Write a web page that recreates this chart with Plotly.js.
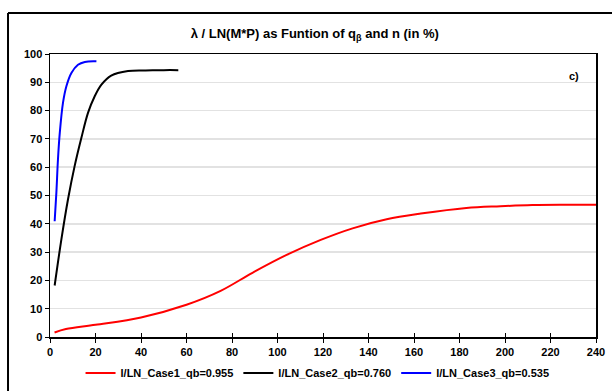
<!DOCTYPE html>
<html>
<head>
<meta charset="utf-8">
<script src="https://cdn.plot.ly/plotly-3.0.1.min.js"></script>
<style>html,body{margin:0;padding:0;background:#fff;}#chart{width:612px;height:391px;}</style>
</head>
<body>
<div id="chart"></div>
<script>
// Series data
const case1X = [2, 7, 20, 40, 60, 75, 89, 104, 119, 133, 148, 163, 183, 198, 212, 227, 240];
const case1Y = [1.6, 2.8, 4.3, 6.9, 11.4, 16.3, 22.7, 29.0, 34.3, 38.4, 41.6, 43.6, 45.6, 46.2, 46.6, 46.7, 46.7];
const case2X = [2.05, 5.0, 7.9, 10.8, 13.8, 16.7, 19.6, 22.6, 26.9, 34.3, 42, 50, 56.4];
const case2Y = [18.2, 34.5, 48.6, 60.3, 70.4, 79.2, 85.0, 89.2, 92.4, 94.0, 94.2, 94.3, 94.3];
const case3X = [2.05, 2.8, 3.5, 4.3, 5.7, 7.2, 9.4, 12.3, 15.3, 20.4];
const case3Y = [40.9, 51.0, 62.7, 72.1, 82.7, 88.6, 93.3, 96.2, 97.2, 97.4];
const seriesNames = ['l/LN_Case1_qb=0.955', 'l/LN_Case2_qb=0.760', 'l/LN_Case3_qb=0.535'];
const xTicks = [0, 20, 40, 60, 80, 100, 120, 140, 160, 180, 200, 220, 240];
const yTicks = [0, 10, 20, 30, 40, 50, 60, 70, 80, 90, 100];

const fontFam = 'Liberation Sans, Arial, sans-serif';
const mk = (x, y, name, color) => ({
  x: x, y: y, name: name, type: 'scatter', mode: 'lines',
  line: {color: color, width: 2, shape: 'spline', smoothing: 1}
});
const data = [
  mk(case1X, case1Y, seriesNames[0], '#ff0000'),
  mk(case2X, case2Y, seriesNames[1], '#000000'),
  mk(case3X, case3Y, seriesNames[2], '#0000ff')
];

const layout = {
  width: 612, height: 391,
  margin: {l: 50, r: 16, t: 54, b: 54, autoexpand: false},
  paper_bgcolor: '#ffffff', plot_bgcolor: '#ffffff',
  font: {family: fontFam, color: '#000'},
  title: {
    text: '<b>λ / LN(M*P) as Funtion of q<sub>β</sub> and n (in %)</b>',
    font: {family: fontFam, size: 13, color: '#000'},
    xref: 'paper', x: 0.485, xanchor: 'center',
    yref: 'container', y: 0.915, yanchor: 'middle'
  },
  xaxis: {
    range: [0, 240], tickvals: xTicks, ticktext: xTicks.map(v => '<b>' + v + '</b>'),
    showgrid: false, zeroline: false,
    showline: true, linecolor: '#000', linewidth: 1.5, mirror: true,
    ticks: 'outside', ticklen: 4, tickcolor: '#000', tickwidth: 1,
    tickfont: {family: fontFam, size: 11, color: '#000'}
  },
  xaxis2: {
    overlaying: 'x', range: [0, 240], tickvals: xTicks, showticklabels: false,
    showgrid: false, zeroline: false, ticks: 'inside', ticklen: 4, tickcolor: '#000', side: 'bottom'
  },
  yaxis: {
    range: [0, 100], tickvals: yTicks, ticktext: yTicks.map(v => '<b>' + v + '</b>'),
    showgrid: true, gridcolor: '#e2e2e2', gridwidth: 1.5, zeroline: false,
    showline: true, linecolor: '#000', linewidth: 1.5, mirror: true,
    ticks: 'outside', ticklen: 4, tickcolor: '#000',
    tickfont: {family: fontFam, size: 11, color: '#000'}
  },
  showlegend: true,
  legend: {
    orientation: 'h', x: 0.49, xanchor: 'center', y: -0.127, yanchor: 'middle',
    font: {family: fontFam, size: 11, color: '#000', weight: 'bold'},
    itemwidth: 30, tracegroupgap: 0
  },
  annotations: [{
    text: '<b>c)</b>', xref: 'paper', yref: 'paper', x: (581 - 50) / 546, y: (337 - 68) / 283,
    showarrow: false, font: {family: fontFam, size: 11, color: '#000'}
  }],
  shapes: [
    {type: 'line', xref: 'paper', yref: 'paper', x0: -0.0769, x1: -0.0769, y0: -0.3, y1: 1.145,
     line: {color: '#000', width: 2}},
    {type: 'line', xref: 'paper', yref: 'paper', x0: -0.0769, x1: 1.2, y0: 1.145, y1: 1.145,
     line: {color: '#000', width: 2}}
  ]
};
// invisible helper trace so the overlaid axis draws the inner tick halves
data.push({x: [0], y: [0], xaxis: 'x2', mode: 'markers', marker: {opacity: 0}, showlegend: false, hoverinfo: 'skip'});

Plotly.newPlot('chart', data, layout, {displayModeBar: false, staticPlot: true});
</script>
</body>
</html>
